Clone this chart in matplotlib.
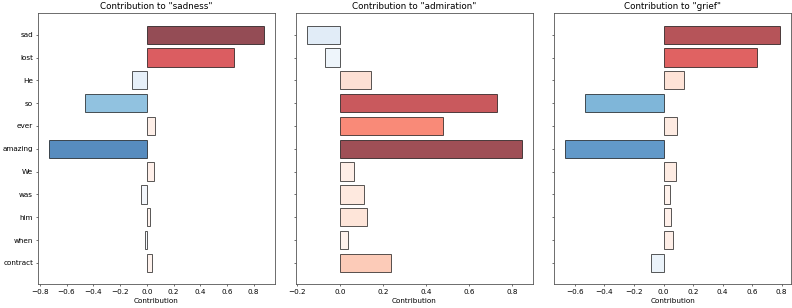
import numpy as np
import matplotlib
matplotlib.use("Agg")
import matplotlib.pyplot as plt

TOKENS = ["sad", "lost", "He", "so", "ever", "amazing", "We", "was", "him", "when", "contract"]
EMOTIONS = ["sadness", "admiration", "grief"]
SADNESS = [0.877, 0.654, -0.111, -0.462, 0.062, -0.733, 0.054, -0.044, 0.025, -0.017, 0.037]
ADMIRATION = [-0.153, -0.069, 0.144, 0.728, 0.479, 0.847, 0.067, 0.112, 0.128, 0.038, 0.236]
GRIEF = [0.791, 0.632, 0.136, -0.529, 0.094, -0.668, 0.087, 0.042, 0.054, 0.067, -0.087]

plt.rcParams["font.size"] = 10.5
plt.rcParams["axes.titlesize"] = 12.7
plt.rcParams["axes.edgecolor"] = "#555555"
plt.rcParams["axes.linewidth"] = 1.2

fig, axes = plt.subplots(1, 3, figsize=(15.84, 6.16), dpi=50, sharey=True)
vmax = max(np.abs(SADNESS + ADMIRATION + GRIEF))
reds, blues = plt.get_cmap("Reds"), plt.get_cmap("Blues")
y = np.arange(len(TOKENS))

for ax, emo, vals in zip(axes, EMOTIONS, [SADNESS, ADMIRATION, GRIEF]):
    vals = np.array(vals)
    cols = [reds(abs(v) / vmax) if v >= 0 else blues(abs(v) / vmax) for v in vals]
    ax.barh(y, vals, color=cols, edgecolor="black", linewidth=1.3, alpha=0.7)
    ax.set_title(f'Contribution to "{emo}"')
    ax.set_xlabel("Contribution")
    ax.set_yticks(y)
    ax.set_yticklabels(TOKENS)
ax.invert_yaxis()

fig.subplots_adjust(left=0.048, right=0.9987, top=0.957, bottom=0.077, wspace=0.09)
fig.savefig("out.png", dpi=50)
